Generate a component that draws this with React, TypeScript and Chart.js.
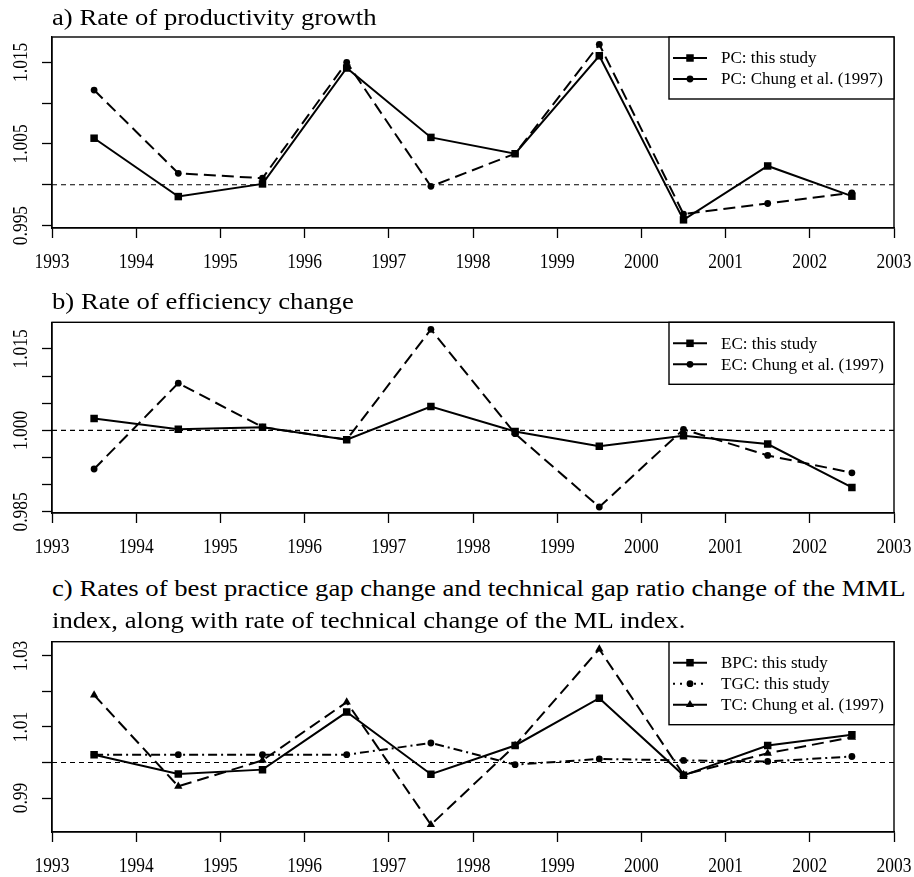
import React, { useEffect, useRef } from "react";
import { Chart, registerables } from "chart.js";

Chart.register(...registerables);

// ---------- data ----------
const years = [1993.5, 1994.5, 1995.5, 1996.5, 1997.5, 1998.5, 1999.5, 2000.5, 2001.5, 2002.5];
const xTicks = [1993, 1994, 1995, 1996, 1997, 1998, 1999, 2000, 2001, 2002, 2003];
const xTickLabels = ["1993", "1994", "1995", "1996", "1997", "1998", "1999", "2000", "2001", "2002", "2003"];

const pcThisStudy = [1.0057, 0.99855, 1.0001, 1.0143, 1.0058, 1.0038, 1.0158, 0.9957, 1.0023, 0.9986];
const pcChung = [1.0116, 1.0014, 1.0008, 1.015, 0.9998, 1.0038, 1.0172, 0.9964, 0.9977, 0.999];

const ecThisStudy = [1.0022, 1.0002, 1.0006, 0.9983, 1.0044, 0.9998, 0.9971, 0.999, 0.9975, 0.9895];
const ecChung = [0.9929, 1.0087, 1.0006, 0.9983, 1.0186, 0.9994, 0.9859, 1.0002, 0.9954, 0.9922];

const bpcThisStudy = [1.0022, 0.9968, 0.998, 1.0142, 0.9967, 1.0048, 1.0181, 0.9964, 1.0048, 1.0078];
const tgcThisStudy = [1.0022, 1.0022, 1.0022, 1.0022, 1.0055, 0.9994, 1.001, 1.0006, 1.0003, 1.0017];
const tcChung = [1.019, 0.9933, 1.0006, 1.017, 0.9825, 1.0048, 1.0319, 0.9966, 1.0026, 1.0071];

const yTicksA = [0.995, 1.0, 1.005, 1.01, 1.015];
const yLabelsA = ["0.995", "", "1.005", "", "1.015"];
const yTicksB = [0.985, 0.99, 0.995, 1.0, 1.005, 1.01, 1.015];
const yLabelsB = ["0.985", "", "", "1.000", "", "", "1.015"];
const yTicksC = [0.99, 1.0, 1.01, 1.02, 1.03];
const yLabelsC = ["0.99", "", "1.01", "", "1.03"];

const titleA = "a) Rate of productivity growth";
const titleB = "b) Rate of efficiency change";
const titleC1 = "c) Rates of best practice gap change and technical gap ratio change of the MML";
const titleC2 = "index, along with rate of technical change of the ML index.";

const SERIF = '"Liberation Serif", "Times New Roman", "DejaVu Serif", serif';

type Series = {
  label: string;
  data: number[];
  dash: number[];
  legendDash: number[];
  point: "rect" | "circle" | "triangle";
  radius: number;
};

const SOLID: number[] = [];
const DASHED = [12, 6];
const DOTDASH = [9, 4, 2, 4];

type PanelProps = {
  series: Series[];
  yMin: number;
  yMax: number;
  yTicks: number[];
  yLabels: string[];
  canvasTop: number;
  plotTop: number;
  plotBottom: number;
};

function drawMarker(ctx: CanvasRenderingContext2D, style: string, x: number, y: number, r: number) {
  ctx.save();
  ctx.setLineDash([]);
  ctx.fillStyle = "#000";
  ctx.beginPath();
  if (style === "rect") {
    const s = Math.SQRT1_2 * r;
    ctx.rect(x - s, y - s, 2 * s, 2 * s);
  } else if (style === "circle") {
    ctx.arc(x, y, r, 0, Math.PI * 2);
  } else {
    ctx.moveTo(x, y - r);
    ctx.lineTo(x + Math.sin((2 * Math.PI) / 3) * r, y - Math.cos((2 * Math.PI) / 3) * r);
    ctx.lineTo(x + Math.sin((4 * Math.PI) / 3) * r, y - Math.cos((4 * Math.PI) / 3) * r);
    ctx.closePath();
  }
  ctx.fill();
  ctx.restore();
}

function Panel(props: PanelProps) {
  const ref = useRef<HTMLCanvasElement>(null);
  const { canvasTop, plotTop, plotBottom } = props;
  const width = 914;
  const xAxisH = 45;
  const height = Math.round(plotBottom - canvasTop + xAxisH);

  useEffect(() => {
    const { series, yMin, yMax, yTicks, yLabels } = props;
    const padTop = plotTop - canvasTop;
    const canvas = ref.current!;

    const decor = {
      id: "decor",
      beforeDatasetsDraw(chart: any) {
        const { ctx, chartArea: a, scales } = chart;
        const y1 = scales.y.getPixelForValue(1);
        ctx.save();
        ctx.strokeStyle = "#000";
        ctx.lineWidth = 1.1;
        ctx.setLineDash([5, 4]);
        ctx.beginPath();
        ctx.moveTo(a.left, y1);
        ctx.lineTo(a.right, y1);
        ctx.stroke();
        ctx.restore();
      },
      afterDraw(chart: any) {
        const { ctx, chartArea: a, scales } = chart;
        ctx.save();
        // plot box
        ctx.strokeStyle = "#000";
        ctx.lineWidth = 1.4;
        ctx.setLineDash([]);
        ctx.strokeRect(a.left, a.top, a.right - a.left, a.bottom - a.top);

        // x tick labels (condensed serif)
        const fs = 21;
        const squeeze = 0.83;
        ctx.fillStyle = "#000";
        ctx.font = `${fs}px ${SERIF}`;
        ctx.textAlign = "center";
        ctx.textBaseline = "alphabetic";
        xTicks.forEach((v, i) => {
          const x = scales.x.getPixelForValue(v);
          ctx.save();
          ctx.translate(x, a.bottom + 39.5);
          ctx.scale(squeeze, 1);
          ctx.fillText(xTickLabels[i], 0, 0);
          ctx.restore();
        });

        // y tick labels rotated
        yTicks.forEach((v, i) => {
          const lab = yLabels[i];
          if (!lab) return;
          const y = scales.y.getPixelForValue(v);
          ctx.save();
          ctx.translate(26.5, y);
          ctx.rotate(-Math.PI / 2);
          ctx.scale(squeeze, 1);
          ctx.fillText(lab, 0, 0);
          ctx.restore();
        });

        // legend
        const n = series.length;
        const lx = 669;
        const lw = a.right - lx;
        const rowGap = 21;
        const lh = rowGap * (n + 1) - 1;
        ctx.fillStyle = "#fff";
        ctx.fillRect(lx, a.top, lw, lh);
        ctx.strokeStyle = "#000";
        ctx.lineWidth = 1.4;
        ctx.strokeRect(lx, a.top, lw, lh);
        series.forEach((s, i) => {
          const ry = a.top + 21 + i * rowGap;
          ctx.strokeStyle = "#000";
          ctx.lineWidth = 2;
          ctx.setLineDash(s.legendDash);
          ctx.beginPath();
          ctx.moveTo(673, ry);
          ctx.lineTo(707, ry);
          ctx.stroke();
          ctx.setLineDash([]);
          drawMarker(ctx, s.point, 690, ry, s.radius);
          ctx.fillStyle = "#000";
          ctx.font = `17px ${SERIF}`;
          ctx.textAlign = "left";
          ctx.textBaseline = "middle";
          ctx.fillText(s.label, 721, ry + 1);
        });
        ctx.restore();
      },
    };

    const chart = new Chart(canvas, {
      type: "line",
      data: {
        datasets: series.map((s) => ({
          label: s.label,
          data: years.map((x, i) => ({ x, y: s.data[i] })),
          borderColor: "#000",
          backgroundColor: "#000",
          borderWidth: 2,
          borderDash: s.dash,
          pointStyle: s.point,
          pointRadius: s.radius,
          pointBackgroundColor: "#000",
          pointBorderColor: "#000",
          pointBorderWidth: 0,
          tension: 0,
          fill: false,
        })),
      },
      options: {
        responsive: false,
        animation: false,
        devicePixelRatio: 1,
        layout: { padding: { left: 0, right: 20, top: padTop, bottom: 0 } },
        plugins: {
          legend: { display: false },
          tooltip: { enabled: false },
          title: { display: false },
        },
        scales: {
          x: {
            type: "linear",
            min: 1993,
            max: 2003,
            afterBuildTicks: (scale: any) => {
              scale.ticks = xTicks.map((v) => ({ value: v }));
            },
            afterFit: (scale: any) => {
              scale.height = xAxisH;
            },
            ticks: { display: false },
            grid: {
              drawOnChartArea: false,
              drawTicks: true,
              tickLength: 10,
              tickColor: "#000",
              tickWidth: 1.3,
            },
            border: { display: true, color: "#000", width: 1.3 },
          },
          y: {
            type: "linear",
            min: yMin,
            max: yMax,
            afterBuildTicks: (scale: any) => {
              scale.ticks = yTicks.map((v) => ({ value: v }));
            },
            afterFit: (scale: any) => {
              scale.width = 52;
            },
            ticks: { display: false },
            grid: {
              drawOnChartArea: false,
              drawTicks: true,
              tickLength: 10,
              tickColor: "#000",
              tickWidth: 1.3,
            },
            border: { display: true, color: "#000", width: 1.3 },
          },
        },
      } as any,
      plugins: [decor as any],
    });
    return () => chart.destroy();
  }, []);

  return (
    <canvas
      ref={ref}
      width={width}
      height={height}
      style={{ position: "absolute", left: 0, top: canvasTop, width, height }}
    />
  );
}

function Title(props: { text: string; baseline: number }) {
  const fs = 26.7;
  return (
    <div
      style={{
        position: "absolute",
        left: 52,
        top: props.baseline - 0.8375 * fs,
        fontFamily: SERIF,
        fontSize: fs,
        lineHeight: 1,
        whiteSpace: "nowrap",
        color: "#000",
        transform: "scaleY(0.86)",
        transformOrigin: `0px ${0.8375 * fs}px`,
        zIndex: 2,
      }}
    >
      {props.text}
    </div>
  );
}

export default function App() {
  const seriesA: Series[] = [
    { label: "PC: this study", data: pcThisStudy, dash: SOLID, legendDash: SOLID, point: "rect", radius: 5.3 },
    { label: "PC: Chung et al. (1997)", data: pcChung, dash: DASHED, legendDash: SOLID, point: "circle", radius: 3.4 },
  ];
  const seriesB: Series[] = [
    { label: "EC: this study", data: ecThisStudy, dash: SOLID, legendDash: SOLID, point: "rect", radius: 5.3 },
    { label: "EC: Chung et al. (1997)", data: ecChung, dash: DASHED, legendDash: SOLID, point: "circle", radius: 3.4 },
  ];
  const seriesC: Series[] = [
    { label: "BPC: this study", data: bpcThisStudy, dash: SOLID, legendDash: SOLID, point: "rect", radius: 5.3 },
    { label: "TGC: this study", data: tgcThisStudy, dash: DOTDASH, legendDash: [2, 5], point: "circle", radius: 3.4 },
    { label: "TC: Chung et al. (1997)", data: tcChung, dash: DASHED, legendDash: SOLID, point: "triangle", radius: 4.8 },
  ];

  return (
    <div
      style={{
        position: "absolute",
        left: 0,
        top: 0,
        width: 914,
        height: 877,
        overflow: "hidden",
        background: "#fff",
      }}
    >
      <Title text={titleA} baseline={25} />
      <Panel
        series={seriesA}
        yMin={0.9947}
        yMax={1.0181}
        yTicks={yTicksA}
        yLabels={yLabelsA}
        canvasTop={27}
        plotTop={37}
        plotBottom={228}
      />
      <Title text={titleB} baseline={309} />
      <Panel
        series={seriesB}
        yMin={0.9848}
        yMax={1.0199}
        yTicks={yTicksB}
        yLabels={yLabelsB}
        canvasTop={312}
        plotTop={322.3}
        plotBottom={512.7}
      />
      <Title text={titleC1} baseline={596.7} />
      <Title text={titleC2} baseline={628.3} />
      <Panel
        series={seriesC}
        yMin={0.98045}
        yMax={1.034}
        yTicks={yTicksC}
        yLabels={yLabelsC}
        canvasTop={632}
        plotTop={641.7}
        plotBottom={832.3}
      />
    </div>
  );
}
